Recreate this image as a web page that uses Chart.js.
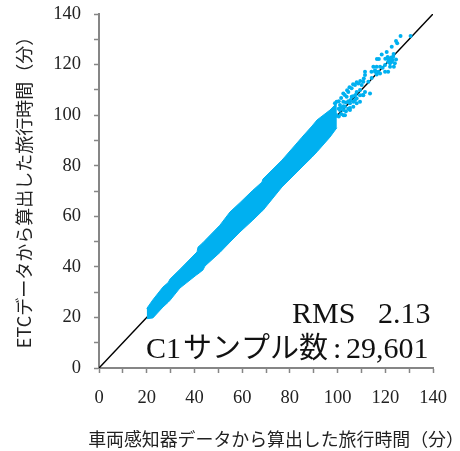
<!DOCTYPE html>
<html lang="ja">
<head>
<meta charset="utf-8">
<title>旅行時間の比較</title>
<script src="https://cdn.jsdelivr.net/npm/chart.js@4"></script>
<style>
    html, body { margin: 0; padding: 0; background: #fff; }
    canvas { display: block; }
</style>
</head>
<body>
<canvas id="chart" width="460" height="451"></canvas>
<script>
// 対角線 (y = x)
const diagonalX = [0, 140];
const diagonalY = [0, 140];

// 点が密集している帯の上端・下端
const bandX = [20, 22.6, 26.8, 29, 29.8, 33.9, 41.1, 41.5, 43.6, 44.4, 50.7, 54.9, 59.1, 64.5, 68.3, 68.7, 76.7, 83, 85.1, 89.3, 91.4, 96.8, 99.7];
const bandUpper = [23.5, 27, 32, 33.8, 35.2, 39, 45.9, 47.8, 49.6, 50.4, 56.5, 61.7, 65.4, 70.3, 73.5, 74.7, 82.2, 89, 91.3, 95.7, 98.1, 102, 104.8];
const bandLower = [19.5, 19.8, 24.1, 26, 26.8, 31.6, 37, 37.2, 38.8, 40.3, 45.7, 49.8, 53.8, 58.5, 62, 62.3, 71.6, 77.5, 79.5, 83.4, 85.5, 91.3, 95];

// 帯より上のまばらな点
const sparseX = [130.6, 126.4, 124.5, 125, 122.7, 120.6, 118.5, 116.5, 117.3, 122, 123.3, 122.7, 121.2, 124, 123.6, 122, 119.9, 121.2, 122, 119.9, 121.2, 115, 116.4, 117.8, 114.2, 115.7, 117.1, 117.8, 118.9, 116.4, 111.5, 111.5, 115.7, 113.6, 111.5, 110.8, 109.4, 108, 106.6, 110.1, 108.7, 107.3, 105.9, 104.5, 103.8, 102.4, 101, 110.8, 112.9, 114.3, 109.4, 108, 105.9, 105.2, 103.1, 102.4, 101, 99.6, 106.6, 105.2, 108, 109.4, 98.9, 99.6, 102.4,
    100.5, 101.5, 103, 104, 105, 106.5, 108, 109.5, 111, 100.5, 101.5, 102.5, 103.5, 104.5, 100.5, 101.5, 102.5, 103.5, 104.5, 105.5, 106.5, 107.5, 103.1, 105.2, 107.3, 110.6, 121.5, 122.5, 123, 122, 121, 120, 123.5, 124.5];
const sparseY = [131.3, 131.3, 129.3, 128.4, 127, 125, 124, 122.2, 122.2, 122.4, 123.1, 121.1, 122.4, 120.5, 119.1, 119.1, 119.8, 121.1, 120.5, 117.2, 117.2, 119.1, 119.1, 119.1, 117.2, 117.8, 117.2, 116.5, 118.7, 116.1, 117.2, 115.9, 117.2, 108.6, 109.2, 107.9, 107.9, 106.6, 105.3, 111.9, 112.5, 111.9, 110.6, 109.2, 107.3, 105.3, 104, 113.2, 113.2, 114.7, 109.9, 109.2, 107.3, 104.7, 103.3, 102, 102, 100, 103.3, 102, 104.7, 105.3, 104.7, 105.3, 108.6,
    105.5, 106.8, 108, 109.8, 111, 112.2, 113, 113.5, 114.5, 99.5, 100.5, 100, 101.5, 102.5, 102.5, 103, 103.5, 105, 105.5, 106, 107.5, 108, 100, 102.8, 106, 108, 122, 122.8, 121.8, 121.5, 123, 122.3, 124.2, 122];

const xAxisTitle = '車両感知器データから算出した旅行時間（分）';
const yAxisTitle = 'ETCデータから算出した旅行時間（分）';

const SERIF = '"Liberation Serif", serif';
const CJK = '"Noto Sans CJK JP", sans-serif';
const POINT_COLOR = '#00B0F0';
const AXIS_COLOR = '#868686';

function toPoints(xs, ys) {
    return xs.map((x, i) => ({ x: x, y: ys[i] }));
}

// 20 刻みだけラベルを出す
function majorLabel(value) {
    return value % 20 === 0 ? value : '';
}

function axisOptions(labelPadding) {
    return {
        min: 0,
        max: 140,
        ticks: {
            stepSize: 10,
            autoSkip: false,
            maxRotation: 0,
            padding: labelPadding,
            color: '#222',
            font: { family: SERIF, size: 18.5 },
            callback: majorLabel
        },
        grid: {
            drawOnChartArea: false,
            tickLength: 5,
            tickWidth: 1.5,
            tickColor: AXIS_COLOR
        },
        border: { color: AXIS_COLOR, width: 2 }
    };
}

// グラフ内の注記
const annotationPlugin = {
    id: 'annotation',
    afterDraw(chart) {
        const ctx = chart.ctx;
        ctx.save();
        ctx.fillStyle = '#111';
        ctx.textBaseline = 'alphabetic';
        ctx.font = '30px ' + SERIF;
        ctx.fillText('RMS', 292, 323);
        ctx.fillText('2.13', 378, 323);
        ctx.fillText('C1', 146, 358);
        ctx.fillText(':', 333, 358);
        ctx.fillText('29,601', 346, 358);
        ctx.font = '29px ' + CJK;
        ctx.fillText('サンプル数', 183, 358);
        ctx.restore();

        // 軸タイトルは目盛り幅より長いので自前で描く (Chart.js のタイトルだと縮む)
        ctx.save();
        ctx.fillStyle = '#222';
        ctx.textAlign = 'center';
        ctx.textBaseline = 'middle';
        ctx.font = '17.9px ' + CJK;
        ctx.fillText(xAxisTitle, 276, 439);
        ctx.translate(24, 188);
        ctx.rotate(-Math.PI / 2);
        ctx.font = '18px ' + CJK;
        ctx.fillText(yAxisTitle, 0, 0);
        ctx.restore();
    }
};

const xAxis = axisOptions(14);
xAxis.afterFit = scale => { scale.height = 83; scale.paddingLeft = 0; scale.paddingRight = 0; };
const yAxis = axisOptions(13);
yAxis.afterFit = scale => { scale.width = 99; scale.paddingTop = 0; scale.paddingBottom = 0; };

new Chart(document.getElementById('chart').getContext('2d'), {
    type: 'scatter',
    data: {
        datasets: [
            {
                label: 'sparse',
                data: toPoints(sparseX, sparseY),
                backgroundColor: POINT_COLOR,
                pointRadius: 2,
                borderWidth: 0,
                order: 1
            },
            {
                label: 'bandUpper',
                data: toPoints(bandX, bandUpper),
                showLine: true,
                fill: '+1',
                borderColor: POINT_COLOR,
                backgroundColor: POINT_COLOR,
                borderWidth: 1,
                pointRadius: 0,
                order: 2
            },
            {
                label: 'bandLower',
                data: toPoints(bandX, bandLower),
                showLine: true,
                borderColor: POINT_COLOR,
                borderWidth: 1,
                pointRadius: 0,
                order: 3
            },
            {
                label: 'diagonal',
                data: toPoints(diagonalX, diagonalY),
                showLine: true,
                borderColor: '#000',
                borderWidth: 1.5,
                pointRadius: 0,
                order: 4
            }
        ]
    },
    options: {
        responsive: false,
        animation: false,
        layout: { padding: { left: 0, right: 27, top: 14, bottom: 0 } },
        plugins: {
            legend: { display: false },
            tooltip: { enabled: false }
        },
        scales: { x: xAxis, y: yAxis }
    },
    plugins: [annotationPlugin]
});
</script>
</body>
</html>
